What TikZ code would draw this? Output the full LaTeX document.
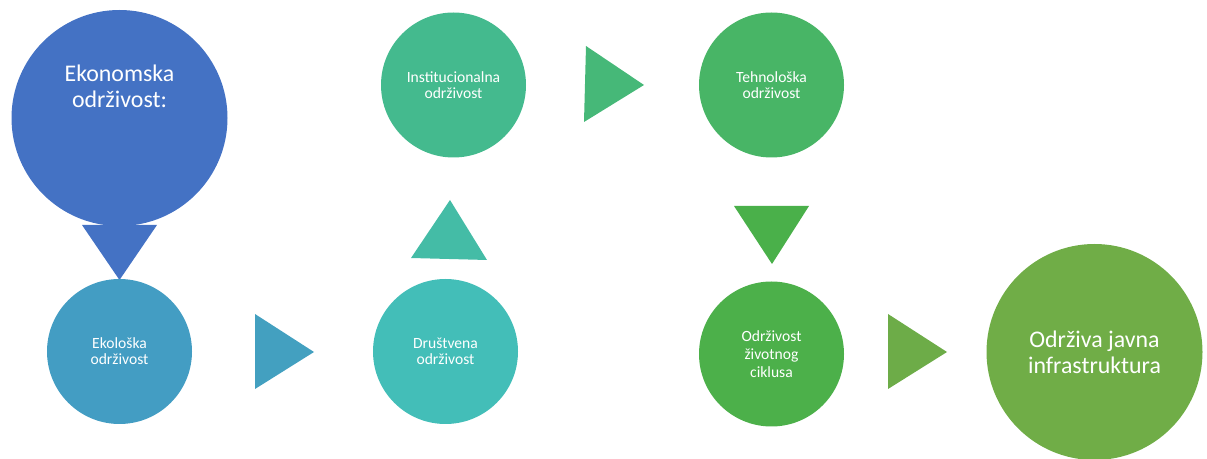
\documentclass[tikz,border=0pt]{standalone}
\usepackage{fontspec}
\setmainfont{Carlito}
\definecolor{cEko}{HTML}{4472C4}
\definecolor{cEkol}{HTML}{439DC3}
\definecolor{tEkol}{HTML}{43A0C0}
\definecolor{cDru}{HTML}{43BEB8}
\definecolor{tDru}{HTML}{44BCA6}
\definecolor{cIns}{HTML}{44BA8E}
\definecolor{tIns}{HTML}{46B878}
\definecolor{cTeh}{HTML}{48B566}
\definecolor{tTeh}{HTML}{4AB04A}
\definecolor{cZiv}{HTML}{4CB04A}
\definecolor{tZiv}{HTML}{6DAC48}
\definecolor{cInf}{HTML}{70AD47}
\tikzset{
  smallc/.style={circle, inner sep=0pt, minimum size=108.75pt, text=white, align=center, font=\fontsize{11.7}{12}\selectfont},
  bigc/.style={circle, inner sep=0pt, minimum size=162pt},
  bigtext/.style={text=white, align=center, font=\fontsize{17.9}{19.5}\selectfont, inner sep=0pt},
}
\begin{document}
\begin{tikzpicture}[x=0.75pt,y=-0.75pt]
\useasboundingbox (0,0) rectangle (1207,459);
% big blue circle
\node[bigc, fill=cEko] (eko) at (119.5,118) {};
\node[bigtext] (ekot) at (119.5,86) {Ekonomska\\održivost:};
\fill[cEko] (82,225) -- (157,225) -- (119.5,280) -- cycle;
% Ekoloska
\node[smallc, fill=cEkol] (ekol) at (119.5,351.5) {Ekološka\\održivost};
\fill[tEkol] (255,314) -- (255,389) -- (314,352) -- cycle;
% Drustvena
\node[smallc, fill=cDru] (dru) at (445.5,351.5) {Društvena\\održivost};
\fill[tDru] (411,258) -- (487,260) -- (450,200) -- cycle;
% Institucionalna
\node[smallc, fill=cIns] (ins) at (453.5,85) {Institucionalna\\održivost};
\fill[tIns] (586,46) -- (584,122) -- (644,85) -- cycle;
% Tehnoloska
\node[smallc, fill=cTeh] (teh) at (771.5,85) {Tehnološka\\održivost};
\fill[tTeh] (734,206) -- (809,206) -- (772,264) -- cycle;
% Zivotni ciklus
\node[smallc, fill=cZiv, font=\fontsize{11.7}{13.4}\selectfont] (ziv) at (771.5,354) {Održivost\\životnog\\ciklusa};
\fill[tZiv] (888,314) -- (888,389) -- (947,352) -- cycle;
% Infrastruktura
\node[bigc, fill=cInf] (inf) at (1094.5,352) {};
\node[bigtext] (inft) at (1094.5,352) {Održiva javna\\infrastruktura};
\end{tikzpicture}
\end{document}
